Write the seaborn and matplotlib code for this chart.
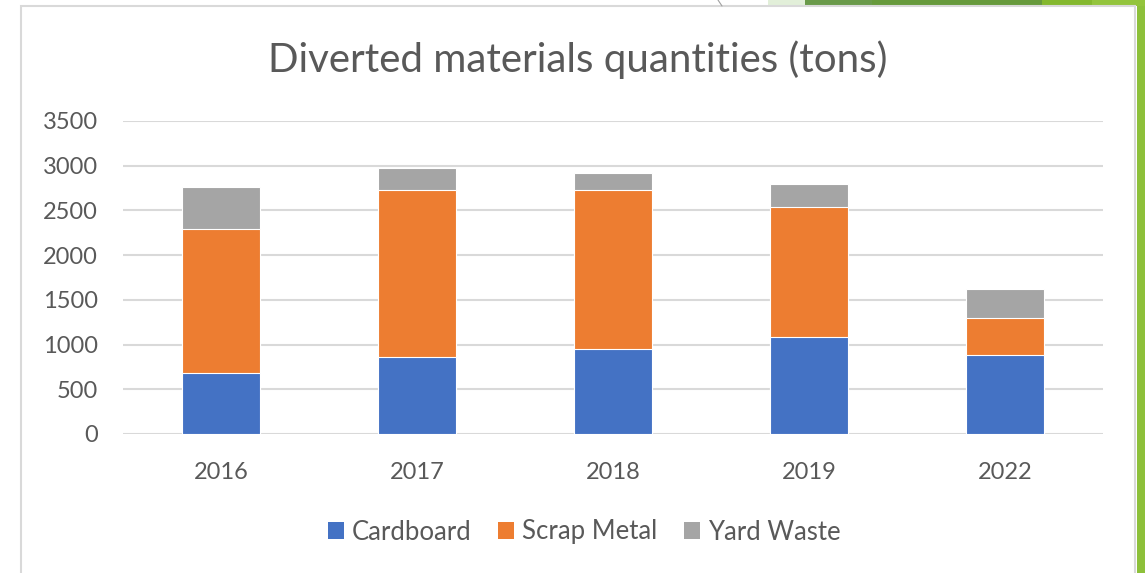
import numpy as np
import pandas as pd
import matplotlib
matplotlib.use("Agg")
import matplotlib.pyplot as plt
from matplotlib.patches import Rectangle, Patch
from matplotlib.lines import Line2D
import seaborn as sns

# Data
years = ["2016", "2017", "2018", "2019", "2022"]
cardboard = [682, 865, 946, 1081, 879]
scrap_metal = [1611, 1860, 1779, 1461, 414]
yard_waste = [465, 250, 198, 250, 332]

series_names = ["Cardboard", "Scrap Metal", "Yard Waste"]
colors = ["#4472C4", "#ED7D31", "#A5A5A5"]
text_color = "#595959"
grid_color = "#D9D9D9"

df = pd.DataFrame({
    "year": years,
    "Cardboard": cardboard,
    "Scrap Metal": scrap_metal,
    "Yard Waste": yard_waste,
})
# cumulative tops so the bars can be drawn on top of each other
df["top_scrap"] = df["Cardboard"] + df["Scrap Metal"]
df["top_yard"] = df["top_scrap"] + df["Yard Waste"]

sns.set_theme(style="white")
plt.rcParams["font.family"] = ["Lato", "DejaVu Sans"]

fig = plt.figure(figsize=(11.45, 5.73), dpi=100)
fig.patch.set_facecolor("white")

# screenshot frame and the green slide decoration around it
W, H = 1145, 573
def fx(px):
    return px / W
def fy(py):
    return 1 - py / H

fig.patches.append(Rectangle((fx(1137), 0), fx(8), 1, transform=fig.transFigure,
                             facecolor="#8DC03A", edgecolor="none", zorder=0))
top_blocks = [(768, 805, "#E2EFD9"), (805, 872, "#6A9A4A"), (872, 1042, "#679A3C"),
              (1042, 1092, "#84B82E"), (1092, 1145, "#93C43C")]
for x0, x1, c in top_blocks:
    fig.patches.append(Rectangle((fx(x0), fy(6)), fx(x1 - x0), 6 / H, transform=fig.transFigure,
                                 facecolor=c, edgecolor="none", zorder=0))
fig.lines.append(Line2D([fx(718), fx(722)], [fy(0), fy(6)], transform=fig.transFigure,
                        color="#A0A0A0", lw=0.8))
fig.patches.append(Rectangle((fx(21), -0.05), fx(1135 - 21), fy(6) + 0.05, transform=fig.transFigure,
                             facecolor="white", edgecolor=grid_color, lw=1.5, zorder=1))

ax = fig.add_axes([fx(123), fy(434), fx(1103 - 123), (434 - 121) / H])
ax.set_facecolor("none")
ax.set_zorder(5)

# stacked look: draw the running totals from the top segment down
sns.barplot(data=df, x="year", y="top_yard", color=colors[2], width=0.4, saturation=1,
            edgecolor="white", linewidth=0.8, ax=ax, zorder=3)
sns.barplot(data=df, x="year", y="top_scrap", color=colors[1], width=0.4, saturation=1,
            edgecolor="white", linewidth=0.8, ax=ax, zorder=3)
sns.barplot(data=df, x="year", y="Cardboard", color=colors[0], width=0.4, saturation=1,
            edgecolor="white", linewidth=0.8, ax=ax, zorder=3)

ax.set_ylim(0, 3500)
ax.set_xlim(-0.5, len(years) - 0.5)
ax.set_yticks(np.arange(0, 3501, 500))
ax.yaxis.grid(True, color=grid_color, lw=1.5, zorder=0)
ax.set_axisbelow(True)
for s in ax.spines.values():
    s.set_visible(False)
ax.set_xlabel("")
ax.set_ylabel("")
ax.tick_params(axis="both", length=0, labelsize=17, colors=text_color)
ax.tick_params(axis="x", pad=20)
ax.tick_params(axis="y", pad=18)

fig.text(fx(578), fy(60), "Diverted materials quantities (tons)", ha="center", va="center",
         fontsize=29, color=text_color, zorder=6)

handles = [Patch(facecolor=c, edgecolor="none") for c in colors]
leg = fig.legend(handles, series_names, loc="center", bbox_to_anchor=(fx(584), fy(532)),
                 ncol=3, frameon=False, fontsize=18.5, labelcolor=text_color,
                 handlelength=0.62, handleheight=0.62, handletextpad=0.3, columnspacing=1.05)
leg.set_zorder(6)

fig.savefig("out.png", dpi=100)
